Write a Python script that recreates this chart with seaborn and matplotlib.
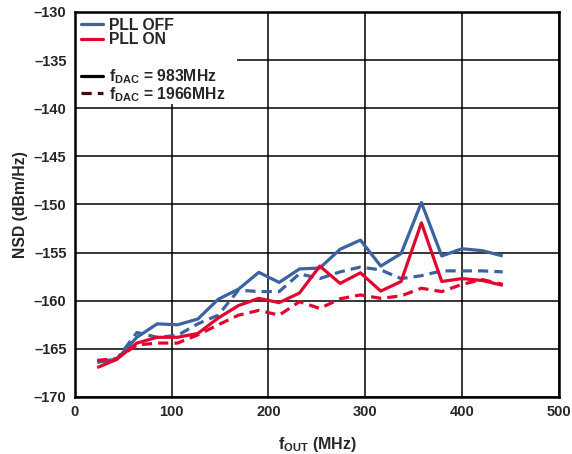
import matplotlib
matplotlib.use("Agg")
import matplotlib.pyplot as plt
import seaborn as sns
import pandas as pd
from matplotlib.lines import Line2D
from matplotlib.patches import Rectangle

f_out = [23, 43, 64, 85, 106, 127, 148, 169, 190, 211, 232, 253, 274, 295, 316, 337, 358, 379, 400, 421, 442]

pll_off_983 = [-166.3, -166.1, -163.8, -162.4, -162.5, -161.9, -159.85, -158.8, -157.05, -158.1, -156.7,
               -156.6, -154.65, -153.7, -156.4, -155.1, -149.8, -155.35, -154.6, -154.8, -155.35]
pll_off_1966 = [-166.4, -166.1, -163.3, -163.8, -163.6, -162.4, -161.5, -158.9, -159.05, -159.05, -157.2,
                -157.7, -157.0, -156.5, -156.8, -157.7, -157.4, -156.9, -156.9, -156.9, -157.0]
pll_on_983 = [-166.95, -166.1, -164.4, -163.8, -163.8, -163.4, -161.8, -160.5, -159.75, -160.2, -159.2,
              -156.4, -158.2, -157.1, -159.0, -158.0, -151.9, -158.0, -157.7, -157.9, -158.4]
pll_on_1966 = [-166.2, -166.0, -164.6, -164.4, -164.4, -163.55, -162.5, -161.5, -161.0, -161.5, -160.1,
               -160.8, -159.8, -159.4, -159.75, -159.5, -158.7, -159.05, -158.3, -157.8, -158.3]

x_ticks = [0, 100, 200, 300, 400, 500]
y_ticks = [-170, -165, -160, -155, -150, -145, -140, -135, -130]

BLUE = "#3C62A2"
RED = "#E2062E"
DARK = "#3A0E0E"

sns.set_style("white")
plt.rcParams["font.family"] = ["Liberation Sans", "DejaVu Sans"]
plt.rcParams["font.weight"] = "bold"
plt.rcParams["mathtext.fontset"] = "custom"
plt.rcParams["mathtext.rm"] = "Liberation Sans:bold"
plt.rcParams["mathtext.bf"] = "Liberation Sans:bold"
plt.rcParams["mathtext.it"] = "Liberation Sans:bold"

fig = plt.figure(figsize=(5.72, 4.54), dpi=100)
ax = fig.add_axes([0.131, 0.1256, 0.846, 0.848])

lw = 2.3
dash = (3.2, 1.9)
series = [
    (pll_off_983, BLUE, None),
    (pll_off_1966, BLUE, dash),
    (pll_on_983, RED, None),
    (pll_on_1966, RED, dash),
]
for vals, col, ds in series:
    df = pd.DataFrame({"f": f_out, "nsd": vals})
    sns.lineplot(data=df, x="f", y="nsd", color=col, lw=lw, ax=ax, legend=False)
    line = ax.lines[-1]
    if ds is not None:
        line.set_dashes(ds)
    line.set_solid_capstyle("butt")
    line.set_dash_capstyle("butt")
    line.set_zorder(3)

ax.set_xlim(0, 500)
ax.set_ylim(-170, -130)
ax.set_xticks(x_ticks)
ax.set_yticks(y_ticks)
ax.set_xticklabels([str(v) for v in x_ticks])
ax.set_yticklabels([str(v).replace("-", "\u2013") for v in y_ticks])
ax.tick_params(length=0, labelsize=10.5, pad=6)
for lab in ax.get_xticklabels() + ax.get_yticklabels():
    lab.set_fontweight("bold")
ax.grid(True, color="black", lw=1.1)
ax.set_axisbelow(True)
for sp in ax.spines.values():
    sp.set_color("black")
    sp.set_linewidth(1.8)
    sp.set_zorder(5)

ax.set_xlabel(r"$\mathregular{f_{OUT}}$ (MHz)", fontsize=11.5, fontweight="bold", labelpad=11)
ax.set_ylabel("NSD (dBm/Hz)", fontsize=11.3, fontweight="bold", labelpad=4)

# white legend area
ax.add_patch(Rectangle((0, 0.761), 0.335, 0.239, transform=ax.transAxes,
                       facecolor="white", edgecolor="none", zorder=2))

common = dict(frameon=False, prop={"weight": "bold", "size": 11.3}, handlelength=1.45,
              handletextpad=0.38, borderpad=0, borderaxespad=0, loc="upper left")

h1 = [Line2D([], [], color=BLUE, lw=lw), Line2D([], [], color=RED, lw=lw)]
leg1 = ax.legend(h1, ["PLL OFF", "PLL ON"], bbox_to_anchor=(0.0118, 0.985),
                 labelspacing=-0.02, **common)
leg1.set_zorder(4)
ax.add_artist(leg1)

h2 = [Line2D([], [], color="black", lw=lw), Line2D([], [], color=DARK, lw=lw, dashes=dash)]
leg2 = ax.legend(h2, [r"$\mathregular{f_{DAC}}$ = 983MHz", r"$\mathregular{f_{DAC}}$ = 1966MHz"],
                 bbox_to_anchor=(0.0118, 0.857), labelspacing=-0.05, **common)
leg2.set_zorder(4)

fig.savefig("out.png", dpi=100)
